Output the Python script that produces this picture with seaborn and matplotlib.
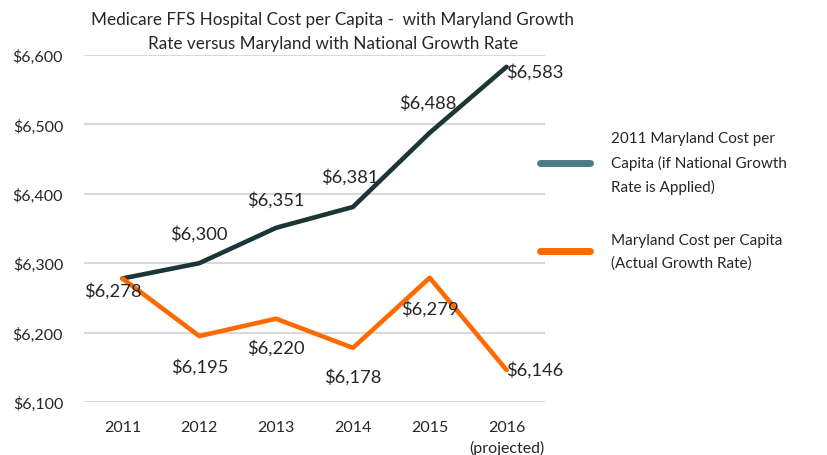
import pandas as pd
import seaborn as sns
import matplotlib
from matplotlib import pyplot as plt
from matplotlib.lines import Line2D

matplotlib.use('Agg')

years = ["2011", "2012", "2013", "2014", "2015", "2016\n(projected)"]
national = [6278, 6300, 6351, 6381, 6488, 6583]
actual = [6278, 6195, 6220, 6178, 6279, 6146]
series_names = [
    "2011 Maryland Cost per\nCapita (if National Growth\nRate is Applied)",
    "Maryland Cost per Capita\n(Actual Growth Rate)",
]
y_ticks = [6100, 6200, 6300, 6400, 6500, 6600]

df = pd.DataFrame({
    "Year": years * 2,
    "Cost": national + actual,
    "Series": [series_names[0]] * 6 + [series_names[1]] * 6,
})

sns.set_style("white")
plt.rcParams["font.family"] = ["Lato", "DejaVu Sans"]
text_color = "#262626"

fig = plt.figure(figsize=(8.28, 4.56), dpi=100)
ax = fig.add_axes([84 / 828, 1 - 403 / 456, (545 - 84) / 828, (403 - 56) / 456])

dark = "#1e3537"
orange = "#ff6a00"
sns.lineplot(data=df, x="Year", y="Cost", hue="Series", palette=[dark, orange],
             linewidth=3.3, sort=False, legend=False, ax=ax, clip_on=False)
# orange drawn over the dark line at 2011
ax.lines[1].set_zorder(3)

ax.set_xlim(-0.5, 5.5)
ax.set_ylim(6100, 6600)
ax.set_yticks(y_ticks)
ax.set_yticklabels([f"${v:,}" for v in y_ticks])
ax.yaxis.grid(True, color="#d9d9d9", linewidth=1.5)
ax.xaxis.grid(False)
for s in ax.spines.values():
    s.set_visible(False)
ax.tick_params(axis="y", length=0, pad=15, labelsize=11.5, colors=text_color)
ax.tick_params(axis="x", length=0, pad=13, labelsize=11.5, colors=text_color)
for lab in ax.get_xticklabels():
    lab.set_linespacing(1.45)
ax.set_xlabel("")
ax.set_ylabel("")

# data labels (offsets in pixels)
nat_off = [None, (0, 30), (0, 29), (-3, 31), (-2, 31), (28, -4)]
act_off = [(-10, -12), (0, -30), (0, -28), (0, -28), (0, -30), (28, 1)]
for i, v in enumerate(national):
    if nat_off[i] is None:
        continue
    ax.annotate(f"${v:,}", (i, v), xytext=nat_off[i], textcoords="offset pixels",
                ha="center", va="center", fontsize=13.2, color=text_color)
for i, v in enumerate(actual):
    ax.annotate(f"${v:,}", (i, v), xytext=act_off[i], textcoords="offset pixels",
                ha="center", va="center", fontsize=13.2, color=text_color, zorder=5)

fig.text(333 / 828, 1 - 32 / 456,
         "Medicare FFS Hospital Cost per Capita -  with Maryland Growth\n"
         "Rate versus Maryland with National Growth Rate",
         ha="center", va="center", fontsize=12.3, color=text_color, linespacing=1.6)

handles = [Line2D([], [], color="#4b7b86", linewidth=5),
           Line2D([], [], color=orange, linewidth=5)]
leg = fig.legend(handles, series_names, loc="upper left",
                 bbox_to_anchor=(540 / 828, 1 - 132 / 456), frameon=False,
                 borderpad=0, borderaxespad=0,
                 fontsize=11, handlelength=3.3, handletextpad=1.35,
                 labelspacing=2.5, labelcolor=text_color)
for t in leg.get_texts():
    t.set_linespacing(1.8)

plt.savefig("out.png", dpi=100)
